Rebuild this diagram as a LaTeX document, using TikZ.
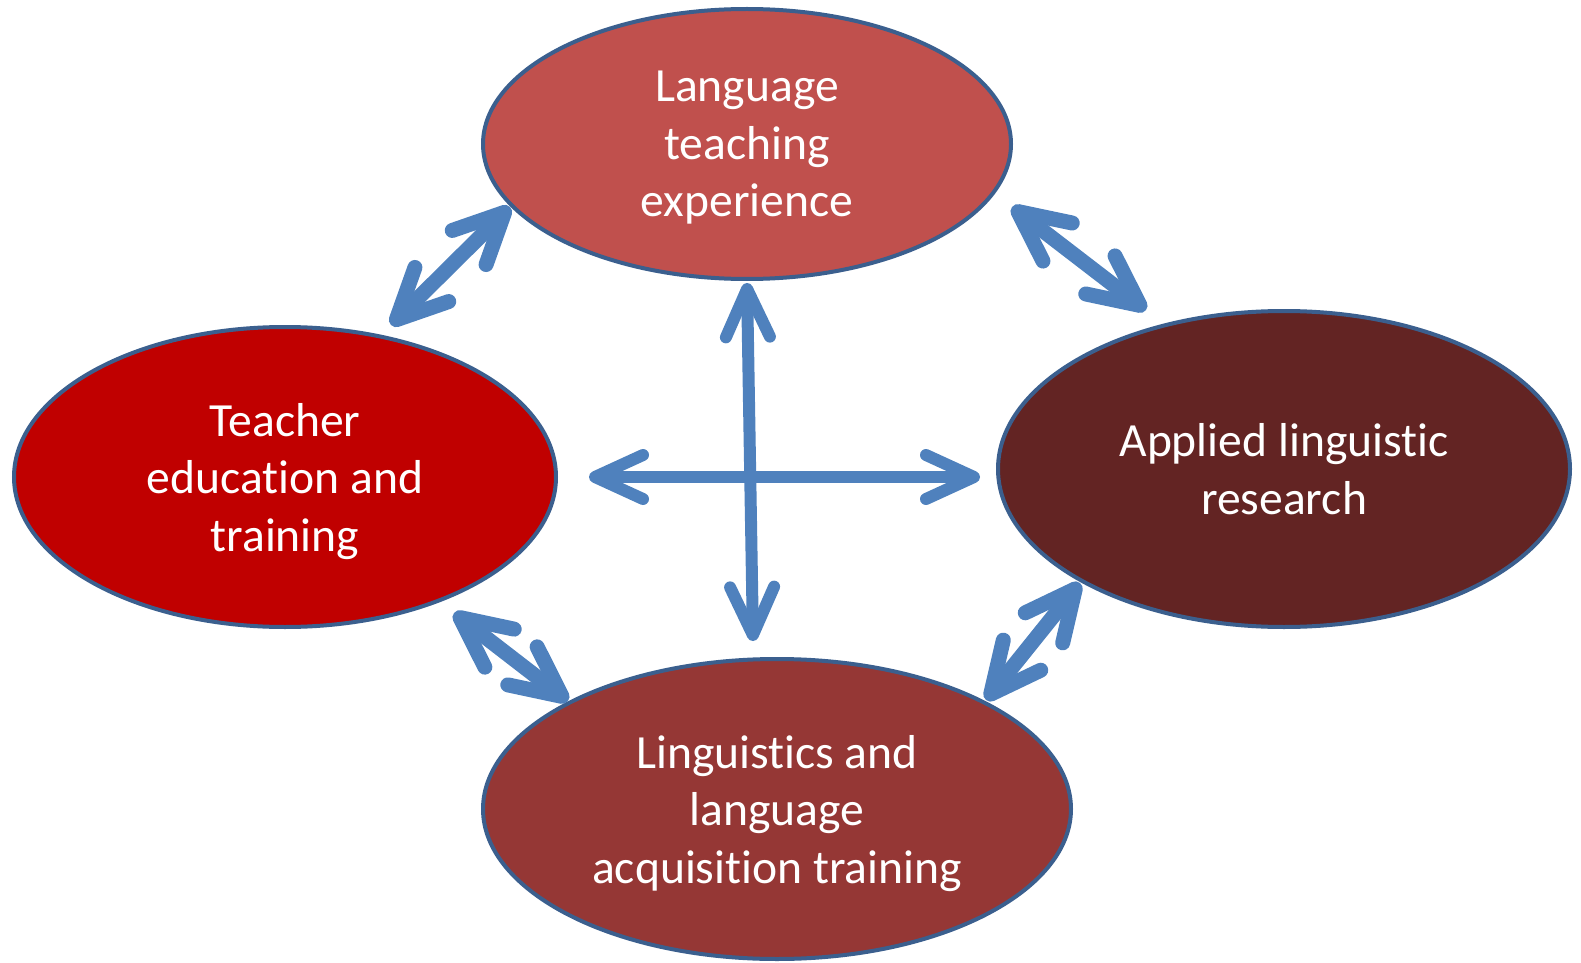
\documentclass[tikz,border=0pt]{standalone}
\usepackage{fontspec}
\setmainfont{Carlito}[Ligatures=NoCommon]
\usepackage{tikz}
\usepackage{xcolor}
\usetikzlibrary{shapes.geometric, arrows.meta}
\definecolor{ltred}{HTML}{C0504D}
\definecolor{tered}{HTML}{C00000}
\definecolor{alred}{HTML}{632423}
\definecolor{llred}{HTML}{953735}
\definecolor{rimblue}{HTML}{3B5F8E}
\definecolor{linkblue}{HTML}{4F81BD}
\tikzset{
    areanode/.style={ellipse, draw=rimblue, line width=2pt, text=white, align=center, inner sep=0pt,
        font=\fontsize{23.8}{28.75}\selectfont, text depth=0pt},
    link/.style={draw=linkblue, line width=7.5pt, >={Straight Barb[length=25pt, width=24pt, round]}, <->},
    crosslink/.style={draw=linkblue, line width=6pt, >={Straight Barb[length=24pt, width=22pt, round]}, <->}
}

\begin{document}
\begin{tikzpicture}[x=0.5pt, y=-0.5pt]
    \useasboundingbox (0,0) rectangle (1581,963);
    \node[areanode, fill=ltred, minimum width=264pt, minimum height=135pt] (teach) at (747,144) {Language\\teaching\\experience};
    \node[areanode, fill=tered, minimum width=271pt, minimum height=150pt] (educ) at (285,477) {Teacher\\education and\\training};
    \node[areanode, fill=alred, minimum width=286pt, minimum height=158pt] (research) at (1284,469) {Applied linguistic\\research};
    \node[areanode, fill=llred, minimum width=294pt, minimum height=150pt] (acq) at (777,809) {Linguistics and\\language\\acquisition training};
    % arrow ends
    \coordinate (tl-a) at (391,325);
    \coordinate (tl-b) at (510,207);
    \coordinate (tr-a) at (1012,207);
    \coordinate (tr-b) at (1146,310);
    \coordinate (bl-a) at (454,613);
    \coordinate (bl-b) at (568,701);
    \coordinate (br-a) at (1080,583);
    \coordinate (br-b) at (986,700);
    \coordinate (vert-a) at (747,283);
    \coordinate (vert-b) at (753,641);
    \coordinate (horz-a) at (589,477);
    \coordinate (horz-b) at (980,477);
    \draw[link] (tl-a) -- (tl-b);
    \draw[link] (tr-a) -- (tr-b);
    \draw[link] (bl-a) -- (bl-b);
    \draw[link] (br-a) -- (br-b);
    \draw[crosslink] (horz-a) -- (horz-b);
    \draw[crosslink] (vert-a) -- (vert-b);
\end{tikzpicture}
\end{document}
